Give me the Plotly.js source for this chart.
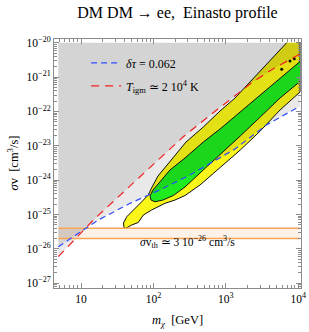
<!DOCTYPE html>
<html>
<head>
<meta charset="utf-8">
<script src="https://cdn.plot.ly/plotly-3.0.1.min.js"></script>
<style>html,body{margin:0;padding:0;background:#fff;}#chart{width:309px;height:332px;}</style>
</head>
<body>
<div id="chart"></div>
<script>
// ---- data (GeV, cm^3/s) ----
const massRange = [4.86, 10560];
const svTop = 1e-20;
const svThermal = [2e-26, 4e-26];

// 95% (yellow) region outline
const massYellow = [6918, 2985, 1338, 830.7, 488.0, 281.7, 169.3, 115.6, 95.6,
  84.9, 68.9, 55.7, 42.8, 38.6, 39.2, 41.2, 50.1, 61.8, 72.5, 94.6, 144.4,
  198.6, 272.9, 439.5, 830.7, 1581, 2985, 5592, 10560, 10560];
const svYellow = [1e-20, 1.50e-21, 2.46e-22, 1.03e-22, 3.52e-23, 1.29e-23, 3.61e-24, 1.32e-24, 6.33e-25,
  3.71e-25, 2.36e-25, 1.52e-25, 8.65e-26, 5.68e-26, 4.20e-26, 3.93e-26, 4.97e-26, 5.87e-26, 9.70e-26, 1.36e-25, 2.12e-25,
  2.65e-25, 3.58e-25, 7.24e-25, 2.34e-24, 7.55e-24, 2.70e-23, 1.10e-22, 3.68e-22, 1e-20];

// 68% (green) region outline
const massGreen = [10560, 5902, 2985, 1581, 830.7, 488.0, 272.9, 169.3, 123.2, 98.6, 89.7, 92.6, 105.1,
  135.6, 188.1, 272.9, 439.5, 830.7, 1581, 2985, 5592, 10560];
const svGreen = [2.84e-21, 1.005e-21, 3.01e-22, 9.64e-23, 3.08e-23, 1.29e-23, 4.42e-24, 1.98e-24, 9.04e-25, 5.18e-25, 3.47e-25, 2.65e-25, 2.36e-25,
  2.65e-25, 3.58e-25, 6.33e-25, 1.62e-24, 5.41e-24, 1.93e-23, 6.89e-23, 2.46e-22, 7.43e-22];

// small islands
const massIsland = [5902, 7683, 8810];
const svIsland = [1.68e-21, 2.94e-21, 3.42e-21];

// delta tau = 0.062 bound (blue)
const massTau = [4.86, 17.33, 47.5, 136.9, 319.8, 671, 1337, 3664, 9508, 10560];
const svTau = [1.16e-26, 6.93e-26, 2.12e-25, 5.81e-25, 1.42e-24, 3.45e-24, 8.07e-24, 4.11e-23, 1.26e-22, 1.42e-22];

// T_igm bound (red)
const massTigm = [4.86, 14.79, 65.26, 258.5, 747.2, 2275, 4519, 7683, 10560];
const svTigm = [5.94e-27, 6.93e-26, 1.262e-24, 1.841e-23, 1.10e-22, 6.86e-22, 1.75e-21, 3.14e-21, 4.7e-21];

// ticks
const xTickVals = [10, 100, 1000, 10000];
const xTickText = ['10', '10<sup>2</sup>', '10<sup>3</sup>', '10<sup>4</sup>'];
const yTickVals = [1e-27, 1e-26, 1e-25, 1e-24, 1e-23, 1e-22, 1e-21, 1e-20];
const yTickText = ['10<sup>−27</sup>', '10<sup>−26</sup>', '10<sup>−25</sup>', '10<sup>−24</sup>',
  '10<sup>−23</sup>', '10<sup>−22</sup>', '10<sup>−21</sup>', '10<sup>−20</sup>'];

function minorLog(lo, hi) {
  const out = [];
  for (let e = lo; e <= hi; e++) for (let m = 2; m <= 9; m++) out.push(m * Math.pow(10, e));
  return out;
}

const serif = 'Liberation Serif, Times New Roman, serif';
const frameColor = '#8c8c8c';

const traces = [
  { // thermal band fill
    x: [massRange[0], massRange[1], massRange[1], massRange[0]],
    y: [svThermal[0], svThermal[0], svThermal[1], svThermal[1]],
    mode: 'lines', fill: 'toself', fillcolor: 'rgba(247,150,70,0.13)',
    line: {width: 0}, showlegend: false, hoverinfo: 'skip'
  },
  {
    x: massYellow, y: svYellow, mode: 'lines', fill: 'toself',
    fillcolor: 'rgb(250,246,25)', line: {color: '#111', width: 1},
    showlegend: false, hoverinfo: 'skip'
  },
  {
    x: massGreen, y: svGreen, mode: 'lines', fill: 'toself',
    fillcolor: 'rgb(30,236,30)', line: {color: '#111', width: 1},
    showlegend: false, hoverinfo: 'skip'
  },
  {
    x: massIsland, y: svIsland, mode: 'markers',
    marker: {size: 3, color: '#111'}, showlegend: false, hoverinfo: 'skip'
  },
  { // shading above delta-tau bound
    x: massTau.concat([massRange[1], massRange[0]]),
    y: svTau.concat([svTop, svTop]),
    mode: 'lines', fill: 'toself', fillcolor: 'rgba(0,0,0,0.085)',
    line: {width: 0}, showlegend: false, hoverinfo: 'skip'
  },
  { // shading above T_igm bound
    x: massTigm.concat([massRange[1], massRange[0]]),
    y: svTigm.concat([svTop, svTop]),
    mode: 'lines', fill: 'toself', fillcolor: 'rgba(0,0,0,0.085)',
    line: {width: 0}, showlegend: false, hoverinfo: 'skip'
  },
  {
    x: [massRange[0], massRange[1], null, massRange[0], massRange[1]],
    y: [svThermal[0], svThermal[0], null, svThermal[1], svThermal[1]],
    mode: 'lines', line: {color: 'rgb(248,165,85)', width: 1.5},
    showlegend: false, hoverinfo: 'skip', connectgaps: false
  },
  {
    x: massTau, y: svTau, mode: 'lines', name: '<i>δτ</i> = 0.062',
    line: {color: '#2e4cff', width: 1.2, dash: '6px,4px'},
    legendgroup: 'a', legendrank: 1
  },
  {
    x: massTigm, y: svTigm, mode: 'lines',
    name: '<i>T</i><sub>igm</sub> ≃ 2 10<sup>4</sup> K',
    line: {color: '#f22020', width: 1.2, dash: '8px,6px'},
    legendgroup: 'b', legendrank: 2
  }
];

const axisCommon = {
  type: 'log', ticks: 'inside', ticklen: 5, tickwidth: 1, tickcolor: frameColor,
  showline: true, linecolor: frameColor, linewidth: 1, mirror: 'allticks',
  showgrid: false, zeroline: false,
  tickfont: {family: serif, size: 11.5, color: '#000'}, tickmode: 'array'
};

const layout = {
  width: 309, height: 332,
  margin: {l: 54, r: 8, t: 39, b: 44, pad: 0},
  paper_bgcolor: '#fff', plot_bgcolor: '#fff',
  title: {text: 'DM DM → ee,\u00a0 Einasto profile', font: {family: serif, size: 16, color: '#000'},
          x: 0.5, xref: 'paper', y: 1 - 12 / 332, yref: 'container', yanchor: 'middle'},
  xaxis: Object.assign({}, axisCommon, {
    range: [0.6272, 4.0374], tickvals: xTickVals, ticktext: xTickText,
    minor: {tickvals: [5, 6, 7, 8, 9].concat(minorLog(1, 3)), ticks: 'inside', ticklen: 3, tickcolor: frameColor}
  }),
  yaxis: Object.assign({}, axisCommon, {
    range: [-27.137, -19.892], tickvals: yTickVals, ticktext: yTickText,
    minor: {tickvals: minorLog(-28, -21), ticks: 'inside', ticklen: 3, tickcolor: frameColor}
  }),
  showlegend: true,
  legend: {x: 0.13, y: 0.962, xanchor: 'left', yanchor: 'top', bgcolor: 'rgba(0,0,0,0)',
           font: {family: serif, size: 12, color: '#000'}, traceorder: 'grouped', tracegroupgap: 4},
  annotations: [
    {xref: 'paper', yref: 'paper', x: 0.54, y: (288 - 251.7) / 249, showarrow: false,
     text: '<i>σ</i>v<sub>th</sub> ≃ 3 10<sup>−26</sup> cm<sup>3</sup>/s',
     font: {family: serif, size: 11.5, color: '#000'}},
    {xref: 'paper', yref: 'paper', x: 0.5, y: -(321 - 288) / 249, showarrow: false, yanchor: 'middle',
     text: '<i>m</i><sub><i>χ</i></sub>\u00a0\u00a0[GeV]', font: {family: serif, size: 12.5, color: '#000'}},
    {xref: 'paper', yref: 'paper', x: (12 - 54) / 247, y: 0.5, showarrow: false, textangle: -90,
     xanchor: 'center', yanchor: 'middle',
     text: '<i>σ</i>v\u00a0\u00a0[cm<sup>3</sup>/s]', font: {family: serif, size: 12.5, color: '#000'}}
  ]
};

Plotly.newPlot('chart', traces, layout, {staticPlot: true, displayModeBar: false});
</script>
</body>
</html>
